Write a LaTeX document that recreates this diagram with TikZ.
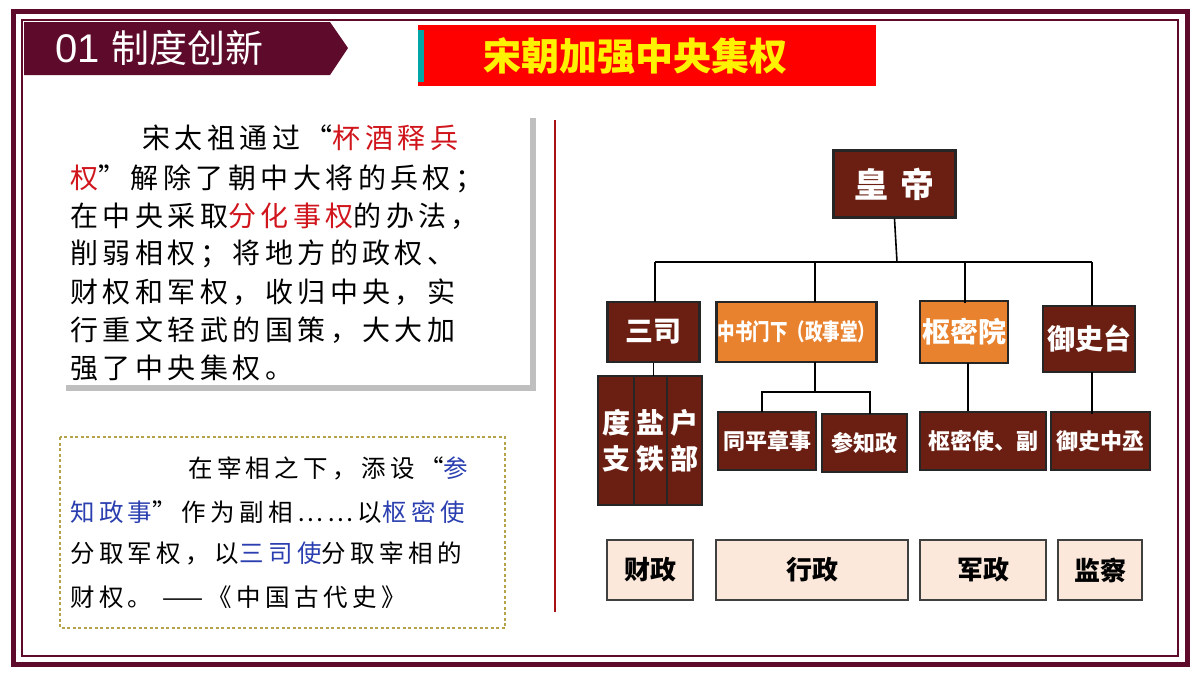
\documentclass[tikz,border=0pt]{standalone}
\usepackage{fontspec}
\usepackage{graphicx}
\setmainfont{Noto Sans CJK SC}
\newfontfamily\cjk{Noto Sans CJK SC}
\newfontfamily\cjkl[LetterSpace=16]{Noto Sans CJK SC}
\newfontfamily\cjkq[LetterSpace=18]{Noto Sans CJK SC}
\newfontfamily\latin{Liberation Sans}
\definecolor{wine}{HTML}{5E0B2B}
\definecolor{brownbox}{HTML}{6B1F12}
\definecolor{orangebox}{HTML}{E8822E}
\definecolor{paleb}{HTML}{FBE8DA}
\definecolor{txtred}{HTML}{D0151C}
\definecolor{txtblue}{HTML}{2B3FB0}
\definecolor{olive}{HTML}{B5A24A}
\tikzset{
 org/.style={draw=black!85,line width=2.5pt,fill=brownbox,text=white,font=\cjk\bfseries\fontsize{28}{30}\selectfont,inner sep=0pt},
 orgo/.style={org,fill=orangebox},
 cat/.style={draw=black!75,line width=2.5pt,fill=paleb,text=black,font=\cjk\bfseries\fontsize{26}{28}\selectfont,inner sep=0pt},
 link/.style={line width=1.6pt,draw=black},
 ltxt/.style={anchor=west,inner sep=0pt,font=\cjkl\fontsize{28}{30}\selectfont},
 qtxt/.style={anchor=west,inner sep=0pt,font=\cjkq\fontsize{24.5}{26}\selectfont}
}
\begin{document}
\begin{tikzpicture}[x=1pt,y=-1pt]
\useasboundingbox (0,0) rectangle (1200,675);
\fill[white] (0,0) rectangle (1200,675);
% frame
\draw[wine,line width=5pt] (13,11) rectangle (1187,664);
\draw[wine,line width=1.5pt] (22,20) rectangle (1178,656);
% header
\fill[wine] (24,22) -- (330,22) -- (348,48) -- (330,75) -- (24,75) -- cycle;
\node[anchor=west,text=white,inner sep=0pt] (hd) at (55,48) {{\latin\fontsize{40}{42}\selectfont 01}\hspace{12pt}{\cjk\fontsize{38}{40}\selectfont 制度创新}};
% title
\fill[red] (418,25) rectangle (876,86);
\fill[teal!70!cyan] (418,30) rectangle (424,82);
\node[text=yellow,font=\cjk\bfseries\fontsize{38}{40}\selectfont,inner sep=0pt] (title) at (635,56) {宋朝加强中央集权};
% left text box
\fill[black!25] (66,118) rectangle (536,391);
\fill[white] (60,112) rectangle (530,385);
\node[ltxt] (l1) at (142,138) {宋太祖通过“\textcolor{txtred}{杯酒释兵}};
\node[ltxt] (l2) at (70,179) {\textcolor{txtred}{权}”解除了朝中大将的兵权；};
\node[ltxt] (l3) at (70,216) {在中央采取\textcolor{txtred}{分化事权}的办法，};
\node[ltxt] (l4) at (70,254) {削弱相权；将地方的政权、};
\node[ltxt] (l5) at (70,292) {财权和军权，收归中央，实};
\node[ltxt] (l6) at (70,330) {行重文轻武的国策，大大加};
\node[ltxt] (l7) at (70,368) {强了中央集权。};
% separator
\draw[txtred!80!black,line width=1.5pt] (555,120) -- (555,612);
% quote box
\draw[olive,line width=1.2pt,dash pattern=on 3pt off 2.5pt] (60,437) rectangle (505,628);
\node[qtxt] (q1) at (188,468) {在宰相之下，添设“\textcolor{txtblue}{参}};
\node[qtxt] (q2) at (70,512) {\textcolor{txtblue}{知政事}”作为副相……以\textcolor{txtblue}{枢密使}};
\node[qtxt] (q3) at (70,553) {分取军权，以\textcolor{txtblue}{三司使}分取宰相的};
\node[qtxt] (q4) at (70,597) {财权。 ——《中国古代史》};
% chart
\node[org,minimum width=122pt,minimum height=67pt,font=\cjk\bfseries\fontsize{34}{36}\selectfont] (hd2) at (894.5,184) {皇\hspace{12pt}帝};
\node[org,minimum width=92pt,minimum height=60pt] (sansi) at (653.5,332) {三司};
\node[orgo,minimum width=160pt,minimum height=60pt,font=\cjk\bfseries\fontsize{23}{25}\selectfont] (zs) at (796.5,332) {\scalebox{0.76}[1]{中书门下（政事堂）}};
\node[orgo,minimum width=88pt,minimum height=62pt] (smy) at (964,332) {枢密院};
\node[org,minimum width=92pt,minimum height=66pt] (yst) at (1089,339) {御史台};
\coordinate (bus) at (897,262);
\draw[link] (hd2.south) -- (bus);
\draw[link] (655,262) -- (1092,262);
\draw[link] (655,262) -- (655,302);
\draw[link] (815,262) -- (815,302);
\draw[link] (965,262) -- (965,303);
\draw[link] (1092,262) -- (1092,306);
\node[org,minimum width=36pt,minimum height=129pt,text width=30pt,align=center,font=\cjk\bfseries\fontsize{28}{36}\selectfont] (dz) at (616,440.5) {度\\支};
\node[org,minimum width=33pt,minimum height=129pt,text width=30pt,align=center,font=\cjk\bfseries\fontsize{28}{36}\selectfont] (yt) at (650.5,440.5) {盐\\铁};
\node[org,minimum width=35pt,minimum height=129pt,text width=30pt,align=center,font=\cjk\bfseries\fontsize{28}{36}\selectfont] (hb) at (684.5,440.5) {户\\部};
\draw[link] (sansi.south) -- (653.5,376);
\node[org,minimum width=98pt,minimum height=58pt,font=\cjk\bfseries\fontsize{22}{24}\selectfont] (tp) at (767,441) {同平章事};
\node[org,minimum width=85pt,minimum height=58pt,font=\cjk\bfseries\fontsize{22}{24}\selectfont] (cz) at (864.5,443) {参知政};
\draw[link] (815,362) -- (815,392);
\draw[link] (762,412) -- (762,392) -- (870,392) -- (870,414);
\node[org,minimum width=126pt,minimum height=58pt,font=\cjk\bfseries\fontsize{22}{24}\selectfont] (smsh) at (983,441) {枢密使、副};
\node[org,minimum width=99pt,minimum height=58pt,font=\cjk\bfseries\fontsize{22}{24}\selectfont] (yzc) at (1100.5,441) {御史中丞};
\draw[link] (968,363) -- (smsh.north -| 968,0);
\draw[link] (1092,372) -- (1092,414);
% categories
\node[cat,minimum width=86pt,minimum height=60pt] (c1) at (650,570) {财政};
\node[cat,minimum width=192pt,minimum height=60pt] (c2) at (812,570) {行政};
\node[cat,minimum width=126pt,minimum height=60pt] (c3) at (983,570) {军政};
\node[cat,minimum width=84pt,minimum height=60pt] (c4) at (1100,570) {监察};
\end{tikzpicture}
\end{document}
